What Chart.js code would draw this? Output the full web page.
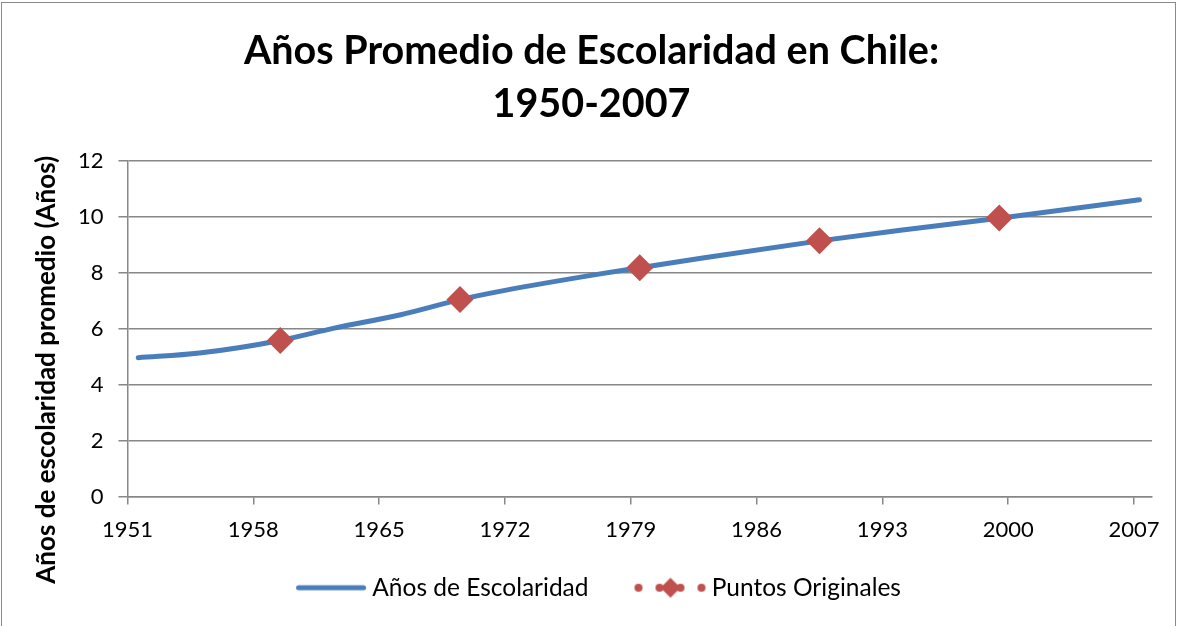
<!DOCTYPE html>
<html>
<head>
<meta charset="utf-8">
<script src="https://cdn.jsdelivr.net/npm/chart.js@4.4.1/dist/chart.umd.min.js"></script>
<style>
  html, body { margin: 0; padding: 0; background: #ffffff; }
  #wrap { position: relative; width: 1180px; height: 626px; overflow: hidden; }
  #frame { position: absolute; left: 1px; top: 2px; width: 1175px; height: 640px; border: 1.5px solid #8a8a8a; box-sizing: border-box; pointer-events: none; }
  canvas { display: block; }
</style>
</head>
<body>
<div id="wrap">
  <canvas id="c" width="1180" height="626"></canvas>
  <div id="frame"></div>
</div>
<script>
// ---- data ----
const titleLines = ['Años Promedio de Escolaridad en Chile:', '1950-2007'];
const yAxisTitle = 'Años de escolaridad promedio (Años)';
const seriesNames = ['Años de Escolaridad', 'Puntos Originales'];
const xTicks = [1951, 1958, 1965, 1972, 1979, 1986, 1993, 2000, 2007];
const yTicks = [0, 2, 4, 6, 8, 10, 12];

// smooth fitted curve
const lineYears  = [1951.6, 1955.0, 1959.5, 1962.5, 1966.2, 1969.5, 1972.0, 1977.3, 1979.5, 1983.0, 1989.5, 1994.0, 1999.5, 2007.3];
const lineValues = [4.96,   5.13,   5.58,   6.02,   6.50,   7.04,   7.37,   7.96,   8.18,   8.53,   9.14,   9.52,   9.95,   10.61];

// original data points
const pointYears  = [1959.5, 1969.5, 1979.5, 1989.5, 1999.5];
const pointValues = [5.58, 7.04, 8.18, 9.14, 9.96];

// ---- styles ----
const BLUE = '#4A7EBB';
const RED = '#C0504D';
const GRID = '#878787';
const FONT = 'Lato, "Open Sans", sans-serif';
const Y_TITLE_SIZE = 26;

function legendLineImg() {
  const c = document.createElement('canvas');
  c.width = 96; c.height = 12;
  const g = c.getContext('2d');
  g.strokeStyle = BLUE; g.lineWidth = 5; g.lineCap = 'round';
  g.beginPath(); g.moveTo(25.5, 6); g.lineTo(90.5, 6); g.stroke();
  return c;
}
function legendPointsImg() {
  const c = document.createElement('canvas');
  c.width = 96; c.height = 22;
  const g = c.getContext('2d');
  g.fillStyle = RED;
  [26, 47, 68, 89].forEach(x => { g.beginPath(); g.arc(x, 11, 4, 0, Math.PI * 2); g.fill(); });
  g.beginPath();
  g.moveTo(58, 1); g.lineTo(68, 11); g.lineTo(58, 21); g.lineTo(48, 11); g.closePath(); g.fill();
  return c;
}
const legendImgs = [legendLineImg(), legendPointsImg()];

// pad the rotated y title so that it sits lower along the axis (as in the original)
function paddedYTitle() {
  const g = document.createElement('canvas').getContext('2d');
  g.font = 'bold ' + Y_TITLE_SIZE + 'px ' + FONT;
  const sw = g.measureText(' ').width || 5;
  const n = Math.round(2 * 41 / sw);
  return yAxisTitle + ' '.repeat(n);
}

const lineData = lineYears.map((x, i) => ({ x: x, y: lineValues[i] }));
const pointData = pointYears.map((x, i) => ({ x: x, y: pointValues[i] }));

new Chart(document.getElementById('c'), {
  type: 'scatter',
  data: {
    datasets: [
      {
        label: seriesNames[0],
        data: lineData,
        showLine: true,
        borderColor: BLUE,
        backgroundColor: BLUE,
        borderWidth: 5,
        borderCapStyle: 'round',
        borderJoinStyle: 'round',
        cubicInterpolationMode: 'monotone',
        pointRadius: 0,
        pointHoverRadius: 0,
        clip: false,
        order: 2
      },
      {
        label: seriesNames[1],
        data: pointData,
        showLine: false,
        pointStyle: 'rectRot',
        pointRadius: 13.5,
        pointHoverRadius: 13.5,
        pointBackgroundColor: RED,
        pointBorderColor: RED,
        pointBorderWidth: 0,
        backgroundColor: RED,
        borderColor: RED,
        order: 1
      }
    ]
  },
  options: {
    responsive: false,
    animation: false,
    devicePixelRatio: 1,
    layout: { padding: { left: 31, right: 28, top: 0, bottom: 16 } },
    plugins: {
      tooltip: { enabled: false },
      title: {
        display: true,
        text: titleLines,
        color: '#000',
        font: { family: FONT, size: 39.5, weight: 'bold', lineHeight: 1.34 },
        padding: { top: 25, bottom: 30 }
      },
      legend: {
        display: true,
        position: 'bottom',
        labels: {
          color: '#000',
          font: { family: FONT, size: 24.5 },
          usePointStyle: true,
          pointStyleWidth: 78,
          boxHeight: 24.5,
          padding: 33,
          generateLabels: function(chart) {
            return chart.data.datasets.map((ds, i) => ({
              text: ds.label,
              datasetIndex: i,
              pointStyle: legendImgs[i],
              fillStyle: 'transparent',
              strokeStyle: 'transparent',
              lineWidth: 0,
              hidden: false,
              fontColor: '#000'
            }));
          }
        }
      }
    },
    scales: {
      x: {
        type: 'linear',
        min: 1951,
        max: 2008,
        afterBuildTicks: function(scale) { scale.ticks = xTicks.map(v => ({ value: v })); },
        afterFit: function(scale) { scale.height = 46; },
        ticks: {
          color: '#000',
          font: { family: FONT, size: 22 },
          padding: 12,
          maxRotation: 0,
          autoSkip: false,
          callback: function(v) { return String(v); }
        },
        grid: {
          drawOnChartArea: false,
          drawTicks: true,
          tickLength: 8,
          color: GRID,
          lineWidth: 1.5
        },
        border: { display: true, color: GRID, width: 1.5 }
      },
      y: {
        type: 'linear',
        min: 0,
        max: 12,
        afterBuildTicks: function(scale) { scale.ticks = yTicks.map(v => ({ value: v })); },
        afterFit: function(scale) { scale.width = 96.5; },
        ticks: {
          color: '#000',
          font: { family: FONT, size: 22 },
          padding: 15,
          callback: function(v) { return String(v); }
        },
        grid: {
          drawOnChartArea: true,
          drawTicks: true,
          tickLength: 9,
          color: GRID,
          lineWidth: 1.5
        },
        border: { display: true, color: GRID, width: 1.5 },
        title: {
          display: true,
          text: paddedYTitle(),
          color: '#000',
          font: { family: FONT, size: Y_TITLE_SIZE, weight: 'bold', lineHeight: 1.2 },
          padding: { top: 0, bottom: 0 }
        }
      }
    }
  }
});
</script>
</body>
</html>
